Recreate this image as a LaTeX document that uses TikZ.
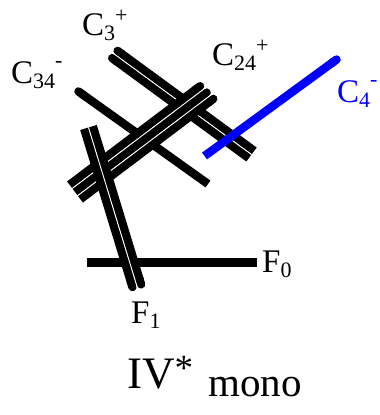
\documentclass[tikz,border=0pt]{standalone}
\usepackage{fontspec}
\setmainfont{Liberation Serif}
\usetikzlibrary{arrows.meta}
\newcommand\mainsz{\fontsize{33}{33}\selectfont}
\newcommand\subsz{\fontsize{22}{22}\selectfont}
\newcommand\lowtxt[1]{\raisebox{-5pt}{\subsz #1}}
\newcommand\hightxt[2]{\raisebox{#1}{\subsz #2}}
\begin{document}
\begin{tikzpicture}[x=1pt,y=-1pt,
  strand/.style={line width=8.4pt,line cap=butt},
  gapline/.style={line width=0.9pt,white,line cap=butt},
  roundstart/.style={{Round Cap[]}-},
  roundend/.style={-{Round Cap[]}},
  lbl/.style={inner sep=0pt,anchor=base west,font=\mainsz}]
\useasboundingbox (0,0) rectangle (380,415);
% C34- single line
\coordinate (s34a) at (75,89);
\coordinate (s34b) at (208,184);
\draw[strand,roundstart] (s34a) -- (s34b);
% C3+ double line
\coordinate (s3aa) at (114.2,48.4); \coordinate (s3ab) at (254.2,150.9);
\coordinate (s3ba) at (108.8,55.6); \coordinate (s3bb) at (248.8,158.1);
\coordinate (s3ga) at (111.5,52);   \coordinate (s3gb) at (251.5,154.5);
\draw[strand,roundstart] (s3aa) -- (s3ab);
\draw[strand,roundstart] (s3ba) -- (s3bb);
\draw[gapline] (s3ga) -- (s3gb);
% C24+ triple line
\coordinate (s24ua) at (69.6,184.8); \coordinate (s24ub) at (203.4,83.7);
\coordinate (s24ma) at (75,192);     \coordinate (s24mb) at (210,90);
\coordinate (s24da) at (80.4,199.2); \coordinate (s24db) at (216.6,96.3);
\coordinate (s24g1a) at (72.3,188.4); \coordinate (s24g1b) at (206.7,86.85);
\coordinate (s24g2a) at (77.7,195.6); \coordinate (s24g2b) at (212.7,93.6);
\draw[strand,roundend] (s24ua) -- (s24ub);
\draw[strand,roundend] (s24ma) -- (s24mb);
\draw[strand,roundend] (s24da) -- (s24db);
\draw[gapline] (s24g1a) -- (s24g1b);
\draw[gapline] (s24g2a) -- (s24g2b);
% F0 single line
\coordinate (f0a) at (87,262.5);
\coordinate (f0b) at (256.5,262.5);
\draw[strand] (f0a) -- (f0b);
% F1 double line
\coordinate (f1la) at (84.2,128.8); \coordinate (f1lb) at (133.7,291);
\coordinate (f1ra) at (92.8,126.2); \coordinate (f1rb) at (142.3,288.4);
\coordinate (f1ga) at (88.5,127.5); \coordinate (f1gb) at (138,289.7);
\draw[strand,roundend] (f1la) -- (f1lb);
\draw[strand,roundend] (f1ra) -- (f1rb);
\draw[gapline] (f1ga) -- (f1gb);
% C4- blue line
\coordinate (c4a) at (204.5,156);
\coordinate (c4b) at (340,57);
\draw[strand,blue,roundend] (c4a) -- (c4b);
% labels
\node[lbl] (l3) at (82,35) {C\lowtxt{3}\hightxt{12.5pt}{+}};
\node[lbl] (l34) at (11,83) {C\lowtxt{34}\hightxt{16pt}{-}};
\node[lbl] (l24) at (212,65) {C\lowtxt{24}\hightxt{12.5pt}{+}};
\node[lbl,text=blue] (l4) at (337,102) {C\lowtxt{4}\hightxt{16pt}{-}};
\node[lbl] (lf0) at (262,272) {F\lowtxt{0}};
\node[lbl] (lf1) at (131,323) {F\lowtxt{1}};
\node[inner sep=0pt,anchor=base west,font=\fontsize{45}{45}\selectfont] (liv) at (127,388) {IV\raisebox{8pt}{\fontsize{37}{37}\selectfont *}};
\node[inner sep=0pt,anchor=base west,font=\fontsize{41}{41}\selectfont] (lmono) at (208,396) {mono};
\end{tikzpicture}
\end{document}
